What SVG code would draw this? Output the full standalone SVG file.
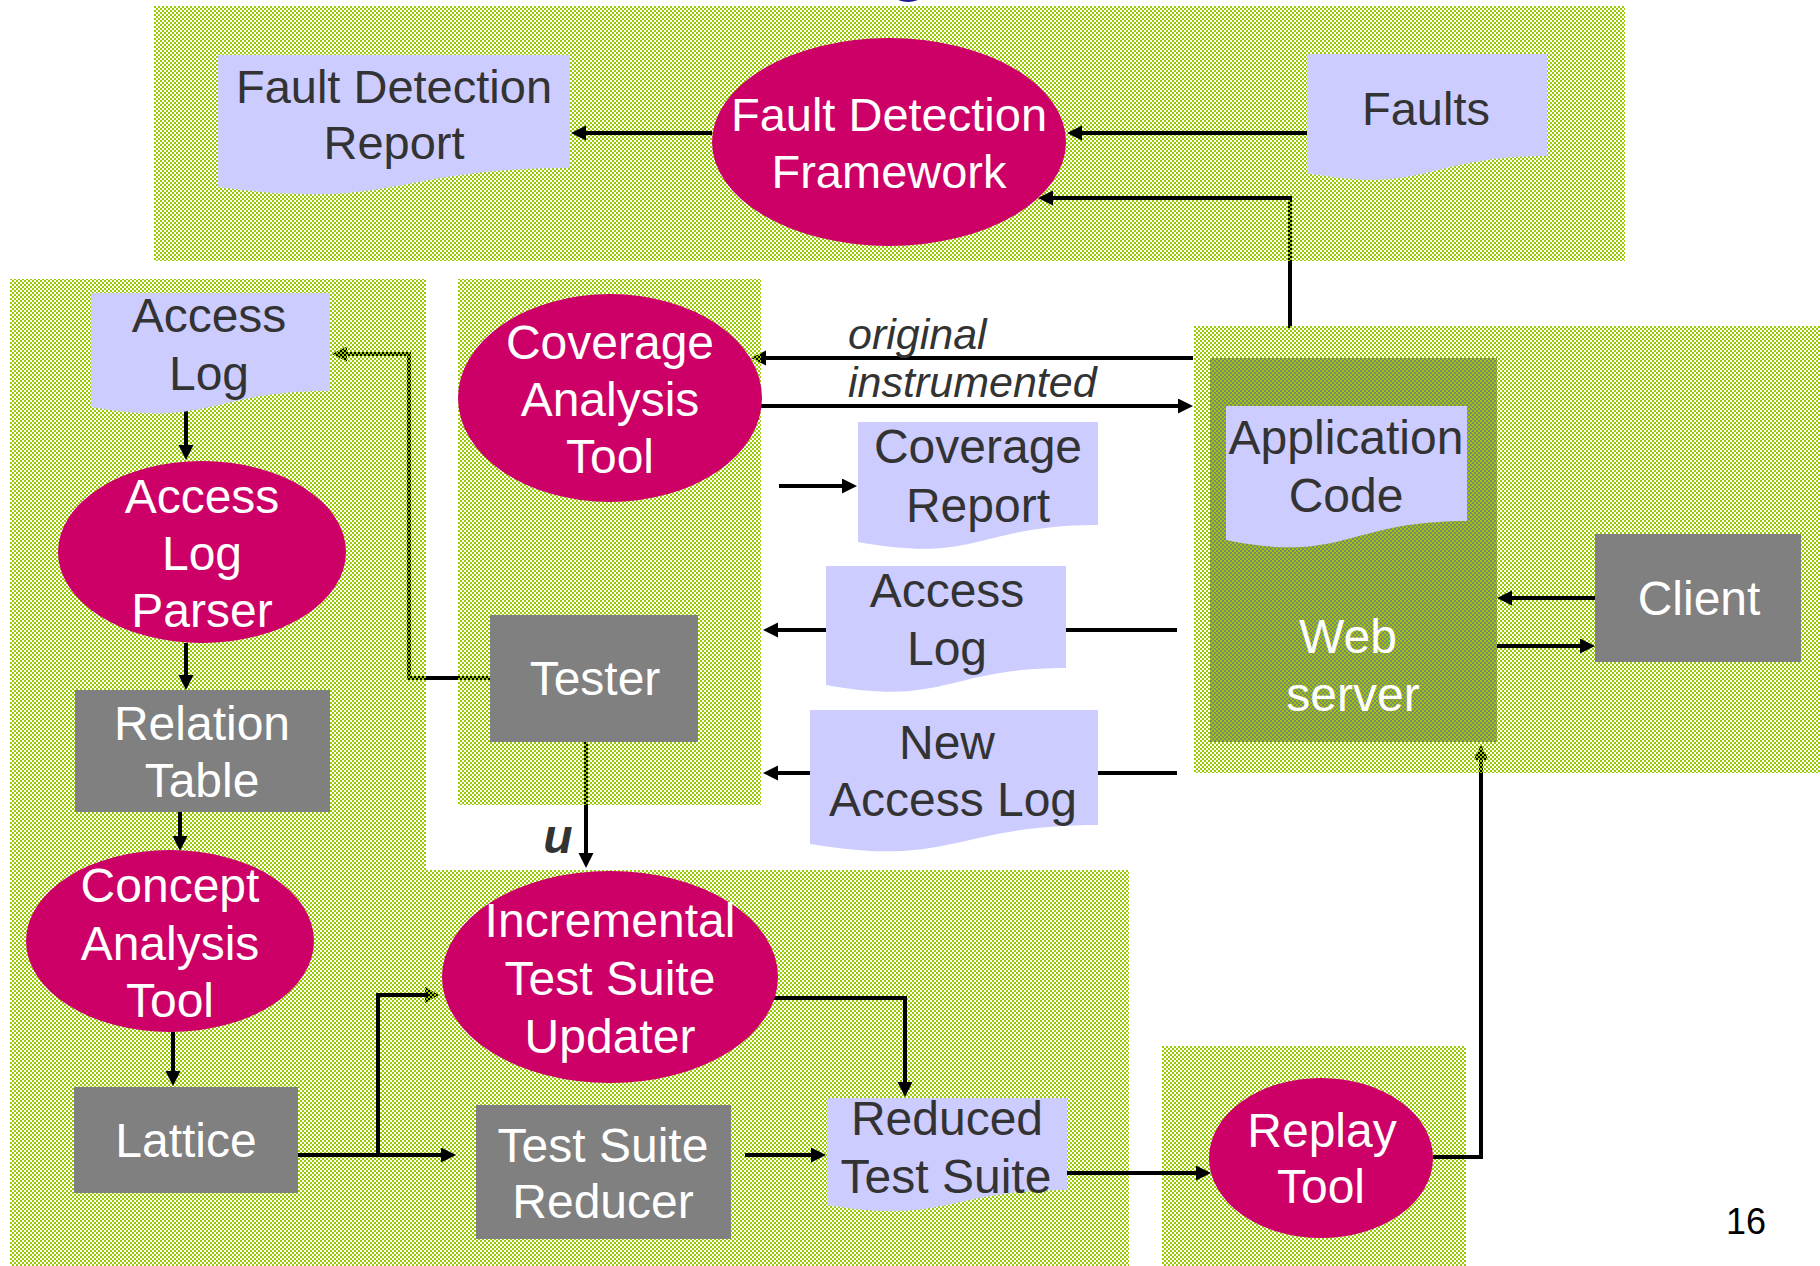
<svg xmlns="http://www.w3.org/2000/svg" width="1820" height="1266" viewBox="0 0 1820 1266">
  <defs>
    <pattern id="chk" patternUnits="userSpaceOnUse" width="4" height="4">
      <rect x="0" y="0" width="2" height="2" fill="#99cc00"/>
      <rect x="2" y="2" width="2" height="2" fill="#99cc00"/>
    </pattern>
    <marker id="ah" markerUnits="userSpaceOnUse" markerWidth="16" markerHeight="16" refX="5" refY="7.5" orient="auto">
      <path d="M0,0 L15,7.5 L0,15 Z" fill="#000"/>
    </marker>
    <style>
      .panel { fill: url(#chk); }
      .doc { fill: #ccccff; }
      .proc { fill: #cc0066; }
      .box { fill: #808080; }
      .ln { fill: none; stroke: #000; stroke-width: 4; }
      .ar { marker-end: url(#ah); }
      text { font-family: "Liberation Sans", Arial, sans-serif; font-size: 48px; text-anchor: middle; }
      .dk { fill: #333333; }
      .wt { fill: #ffffff; }
      .top { font-size: 47px; }
      .lbl { font-style: italic; font-size: 43px; fill: #333333; text-anchor: start; }
    </style>
  </defs>

  <rect x="0" y="0" width="1820" height="1266" fill="#ffffff"/>
  <ellipse cx="908" cy="-3" rx="12" ry="5" fill="#1a1a8c"/>

  <!-- web server body (under the pattern) -->
  <rect id="webserver-box" x="1210" y="358" width="287" height="384" fill="#808080"/>

  <!-- connectors running under the panel pattern -->
  <g id="connectors-under">
    <path class="ln" d="M1290,328 V198"/>
    <path class="ln ar" d="M490,678 H409 V354 H342"/>
    <path class="ln ar" d="M1193,358 H761"/>
    <path class="ln ar" d="M586,741 V858"/>
    <path class="ln ar" d="M1481,775 V755"/>
    <path d="M425,987 L439,995 L425,1003 Z" fill="#000"/>
  </g>

  <!-- panels -->
  <g id="panels">
    <rect class="panel" x="154" y="6" width="1471" height="255"/>
    <path class="panel" d="M10,279 H426 V870 H1129 V1266 H10 Z"/>
    <rect class="panel" x="458" y="279" width="303" height="526"/>
    <rect class="panel" x="1194" y="326" width="626" height="447"/>
    <rect class="panel" x="1162" y="1046" width="304" height="220"/>
  </g>

  <g id="connectors">
    <path class="ln ar" d="M712,133 H581"/>
    <path class="ln ar" d="M1307,133 H1077"/>
    <path class="ln ar" d="M1292,198 H1048"/>
    <path class="ln ar" d="M186,410 V450"/>
    <path class="ln ar" d="M186,643 V680"/>
    <path class="ln ar" d="M180,812 V841"/>
    <path class="ln ar" d="M173,1032 V1076"/>
    <path class="ln ar" d="M298,1155 H446"/>
    <path class="ln" d="M378,1155 V995 H428"/>
    <path class="ln ar" d="M760,406 H1183"/>
    <path class="ln ar" d="M779,486 H847"/>
    <path class="ln ar" d="M1177,630 H773"/>
    <path class="ln ar" d="M1177,773 H773"/>
    <path class="ln ar" d="M1595,598 H1507"/>
    <path class="ln ar" d="M1497,646 H1585"/>
    <path class="ln ar" d="M772,998 H905 V1087"/>
    <path class="ln ar" d="M745,1155 H816"/>
    <path class="ln ar" d="M1067,1173 H1201"/>
    <path class="ln" d="M1433,1157 H1481 V773"/>
  </g>

  <!-- top panel nodes -->
  <g id="fault-detection-report">
    <path class="doc" d="M218,55 H570 V168 C394,168 394,211 218,187 Z"/>
    <text class="dk top" x="394" y="103">Fault Detection</text>
    <text class="dk top" x="394" y="159">Report</text>
  </g>
  <g id="fault-detection-framework">
    <ellipse class="proc" cx="889" cy="142" rx="177" ry="104"/>
    <text class="wt top" x="889" y="131">Fault Detection</text>
    <text class="wt top" x="889" y="188">Framework</text>
  </g>
  <g id="faults">
    <path class="doc" d="M1307,54 H1547 V156 C1427,156 1427,195 1307,173 Z"/>
    <text class="dk top" x="1426" y="125">Faults</text>
  </g>

  <!-- left column -->
  <g id="access-log-1">
    <path class="doc" d="M91,293 H330 V391 C210,391 210,428 91,407 Z"/>
    <text class="dk" x="209" y="332">Access</text>
    <text class="dk" x="209" y="390">Log</text>
  </g>
  <g id="access-log-parser">
    <ellipse class="proc" cx="202" cy="552" rx="144" ry="91"/>
    <text class="wt" x="202" y="513">Access</text>
    <text class="wt" x="202" y="570">Log</text>
    <text class="wt" x="202" y="627">Parser</text>
  </g>
  <g id="relation-table">
    <rect class="box" x="75" y="690" width="255" height="122"/>
    <text class="wt" x="202" y="740">Relation</text>
    <text class="wt" x="202" y="797">Table</text>
  </g>
  <g id="concept-analysis-tool">
    <ellipse class="proc" cx="170" cy="941" rx="144" ry="91"/>
    <text class="wt" x="170" y="902">Concept</text>
    <text class="wt" x="170" y="960">Analysis</text>
    <text class="wt" x="170" y="1017">Tool</text>
  </g>
  <g id="lattice">
    <rect class="box" x="74" y="1087" width="224" height="106"/>
    <text class="wt" x="186" y="1157">Lattice</text>
  </g>

  <!-- middle column -->
  <g id="coverage-analysis-tool">
    <ellipse class="proc" cx="610" cy="398" rx="152" ry="104"/>
    <text class="wt" x="610" y="359">Coverage</text>
    <text class="wt" x="610" y="416">Analysis</text>
    <text class="wt" x="610" y="473">Tool</text>
  </g>
  <g id="tester">
    <rect class="box" x="490" y="615" width="208" height="127"/>
    <text class="wt" x="595" y="695">Tester</text>
  </g>

  <text class="lbl" x="848" y="349">original</text>
  <text class="lbl" x="848" y="397">instrumented</text>

  <g id="coverage-report">
    <path class="doc" d="M858,422 H1098 V525 C978,525 978,564 858,542 Z"/>
    <text class="dk" x="978" y="463">Coverage</text>
    <text class="dk" x="978" y="522">Report</text>
  </g>
  <g id="access-log-2">
    <path class="doc" d="M826,566 H1066 V668 C946,668 946,707 826,685 Z"/>
    <text class="dk" x="947" y="607">Access</text>
    <text class="dk" x="947" y="665">Log</text>
  </g>
  <g id="new-access-log">
    <path class="doc" d="M810,710 H1098 V825 C954,825 954,868 810,844 Z"/>
    <text class="dk" x="947" y="759">New</text>
    <text class="dk" x="953" y="816">Access Log</text>
  </g>

  <!-- right side -->
  <g id="web-server">
    <text class="wt" x="1348" y="653">Web</text>
    <text class="wt" x="1353" y="711">server</text>
  </g>
  <g id="application-code">
    <path class="doc" d="M1226,406 H1467 V521 C1346,521 1346,564 1226,540 Z"/>
    <text class="dk" x="1346" y="454">Application</text>
    <text class="dk" x="1346" y="512">Code</text>
  </g>
  <g id="client">
    <rect class="box" x="1595" y="534" width="206" height="128"/>
    <text class="wt" x="1699" y="615">Client</text>
  </g>

  <!-- bottom -->
  <text class="dk" x="558" y="853" style="font-weight:bold;font-style:italic">u</text>
  <g id="incremental-test-suite-updater">
    <ellipse class="proc" cx="610" cy="977" rx="168" ry="106"/>
    <text class="wt" x="610" y="937">Incremental</text>
    <text class="wt" x="610" y="995">Test Suite</text>
    <text class="wt" x="610" y="1053">Updater</text>
  </g>
  <g id="test-suite-reducer">
    <rect class="box" x="476" y="1105" width="255" height="134"/>
    <text class="wt" x="603" y="1162">Test Suite</text>
    <text class="wt" x="603" y="1218">Reducer</text>
  </g>
  <g id="reduced-test-suite">
    <path class="doc" d="M827,1098 H1067 V1190 C947,1190 947,1225 827,1205 Z"/>
    <text class="dk" x="947" y="1135">Reduced</text>
    <text class="dk" x="946" y="1193">Test Suite</text>
  </g>
  <g id="replay-tool">
    <ellipse class="proc" cx="1321" cy="1158" rx="112" ry="80"/>
    <text class="wt" x="1322" y="1147">Replay</text>
    <text class="wt" x="1321" y="1203">Tool</text>
  </g>

  <text x="1746" y="1234" style="font-size:36px;fill:#000">16</text>
</svg>
